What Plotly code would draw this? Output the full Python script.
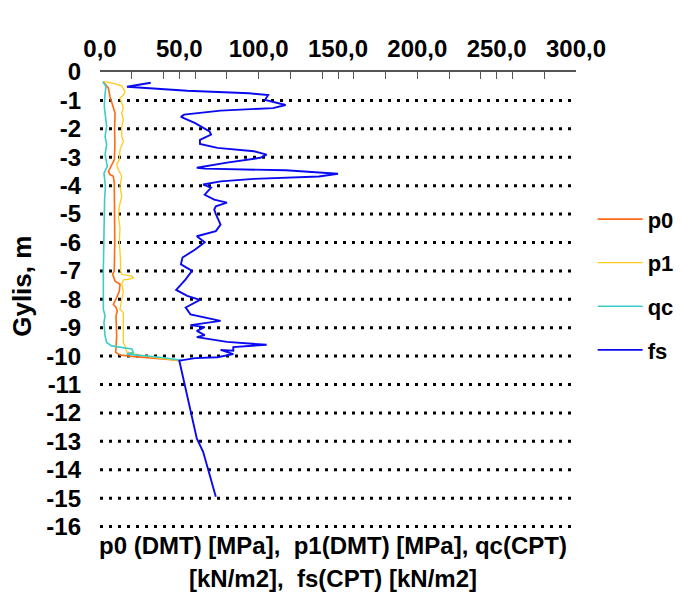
import plotly.graph_objects as go

# ---------------- data ----------------
# depths in metres (plotted as negative values), values on a common 0-300 axis
p0_depth = [0.34, 0.57, 0.87, 1.04, 1.27, 1.45, 2.0, 2.6, 3.09, 3.2, 3.38, 3.5, 3.61, 3.67, 3.9,
            4.5, 5.2, 6.0, 6.6, 7.0, 7.12, 7.36, 7.47, 7.71, 7.94, 8.18, 8.29, 8.41, 8.58, 8.94,
            9.29, 9.87, 9.96, 10.01, 10.06, 10.13, 10.16]
p0_value = [2.1, 5.3, 6.3, 7.3, 8.8, 9.5, 9.2, 9.4, 9.0, 8.0, 6.7, 5.3, 6.3, 8.4, 9.0,
            9.3, 9.2, 9.3, 9.1, 9.0, 8.0, 9.5, 12.6, 12.2, 10.5, 8.4, 10.1, 10.9, 10.1, 10.1,
            10.5, 9.9, 12.6, 20.0, 32.6, 45.0, 50.0]

p1_depth = [0.34, 0.4, 0.49, 0.69, 0.81, 0.92, 1.1, 1.27, 1.45, 1.68, 1.92, 2.27, 2.44, 2.74,
            3.09, 3.26, 3.44, 3.67, 4.02, 4.37, 4.73, 5.08, 5.5, 6.0, 6.5, 7.0, 7.12, 7.18,
            7.24, 7.3, 7.32, 7.47, 7.71, 8.06, 8.35, 8.47, 8.7, 9.52, 9.64, 9.85, 9.9, 9.96,
            10.05, 10.16]
p1_value = [2.5, 8.4, 13.7, 15.8, 14.7, 12.6, 13.7, 14.7, 13.7, 14.7, 13.7, 13.7, 14.7, 12.6,
            12.2, 10.5, 11.6, 13.7, 12.6, 13.7, 12.2, 11.6, 12.6, 12.2, 12.8, 13.0, 13.7, 20.0,
            21.0, 17.9, 14.7, 13.7, 14.7, 13.7, 12.6, 14.7, 14.7, 14.7, 15.8, 16.8, 20.0, 24.0,
            34.7, 50.0]

qc_depth = [0.34, 0.51, 0.75, 1.2, 1.45, 1.92, 2.27, 2.56, 2.9, 3.32, 3.56, 4.02, 4.49, 5.08,
            6.01, 7.0, 8.35, 8.58, 8.82, 9.29, 9.52, 9.64, 9.75, 9.87, 9.93, 9.99, 10.05,
            10.13, 10.16]
qc_value = [1.7, 3.8, 3.2, 2.7, 3.2, 4.2, 3.2, 4.2, 3.2, 4.6, 2.5, 3.4, 2.9, 2.7,
            2.1, 2.1, 2.1, 3.2, 2.5, 3.2, 4.2, 7.3, 20.0, 21.0, 16.8, 28.0, 39.0,
            49.0, 52.0]

fs_depth = [0.38, 0.52, 0.66, 0.75, 0.81, 0.98, 1.16, 1.27, 1.36, 1.5, 1.58, 1.8, 2.09, 2.2,
            2.39, 2.53, 2.67, 2.79, 2.91, 3.02, 3.19, 3.37, 3.4, 3.46, 3.58, 3.68, 3.76, 3.85,
            3.96, 4.07, 4.32, 4.49, 4.6, 4.73, 4.84, 5.0, 5.37, 5.6, 5.78, 5.99, 6.25, 6.53,
            6.77, 7.0, 7.3, 7.67, 7.88, 8.02, 8.29, 8.53, 8.76, 8.91, 8.98, 9.11, 9.26, 9.33,
            9.5, 9.6, 9.68, 9.81, 9.78, 9.93, 10.04, 10.07, 10.16, 11.39, 12.9, 13.37, 14.95]
fs_value = [32, 17, 55, 94, 106, 104, 117, 109, 76, 53, 51, 60, 69, 70,
            63, 63, 74, 97, 105, 101, 80, 61, 66, 117, 150, 138, 97, 76,
            65, 70, 66, 72, 80, 73, 72, 73, 76, 73, 61, 66, 60, 52,
            51, 58, 54, 48, 55, 63, 54, 57, 76, 57, 66, 61, 66, 61,
            80, 105, 84, 84, 76, 84, 74, 60, 50, 55, 61, 65, 73]

x_tick_values = sorted(set(range(0, 301, 20)) | set(range(0, 301, 50)))
x_tick_text = [f"{v},0" if v % 50 == 0 else "" for v in x_tick_values]
y_tick_values = list(range(0, -17, -1))
grid_depths = list(range(-1, -17, -1))

FONT = "Arial, Liberation Sans, sans-serif"

fig = go.Figure()
series = [
    ("p0", p0_depth, p0_value, "#FF6A13", 1.6),
    ("p1", p1_depth, p1_value, "#FFCC1A", 1.3),
    ("qc", qc_depth, qc_value, "#3CCCCC", 1.6),
    ("fs", fs_depth, fs_value, "#0A0AF0", 1.9),
]
for name, d, v, col, w in series:
    fig.add_trace(go.Scatter(
        x=v, y=[-x for x in d], mode="lines", name=name, legendgroup=name,
        line=dict(color=col, width=w),
    ))

shapes = [dict(type="line", xref="paper", x0=0, x1=1, yref="y", y0=g, y1=g,
               line=dict(color="black", width=3, dash="3px,6px"), layer="below")
          for g in grid_depths]

# the page body adds an 8px offset, so the figure is 8px smaller and shifted
fig.update_layout(
    width=674, height=587,
    margin=dict(l=92, r=106, t=64, b=67, autoexpand=False),
    paper_bgcolor="white", plot_bgcolor="white",
    font=dict(family=FONT, color="black", size=20, weight="bold"),
    shapes=shapes,
    showlegend=True,
    legend=dict(x=1.035, y=0.723, xanchor="left", yanchor="top",
                font=dict(size=22, family=FONT, weight="bold"),
                tracegroupgap=12, itemwidth=45, bgcolor="rgba(0,0,0,0)"),
    xaxis=dict(side="top", range=[0, 300], tickmode="array",
               tickvals=x_tick_values, ticktext=x_tick_text, automargin=False,
               ticks="inside", ticklen=7, tickwidth=1.3, tickcolor="#555",
               showline=True, linecolor="#555", linewidth=1.5,
               showgrid=False, zeroline=False,
               tickfont=dict(size=24, family=FONT, weight="bold"),
               ticklabelstandoff=4),
    yaxis=dict(range=[-16.05, 0], tickmode="array", tickvals=y_tick_values,
               ticktext=[str(v) for v in y_tick_values], automargin=False,
               showgrid=False, zeroline=False, showline=False, ticks="",
               tickfont=dict(size=24, family=FONT, weight="bold"),
               ticklabelstandoff=18),
    annotations=[
        dict(text="Gylis, m", textangle=-90, xref="paper", yref="paper",
             x=-0.164, y=0.531, xanchor="center", yanchor="middle", showarrow=False,
             font=dict(size=26, family=FONT, weight="bold")),
        dict(text="p0 (DMT) [MPa],  p1(DMT) [MPa], qc(CPT)",
             xref="paper", yref="paper", x=0.49, y=-0.038, xanchor="center", yanchor="middle",
             showarrow=False, font=dict(size=24, family=FONT, weight="bold")),
        dict(text="[kN/m2],  fs(CPT) [kN/m2]",
             xref="paper", yref="paper", x=0.49, y=-0.11, xanchor="center", yanchor="middle",
             showarrow=False, font=dict(size=24, family=FONT, weight="bold")),
    ],
)

fig.write_html("out.html")
